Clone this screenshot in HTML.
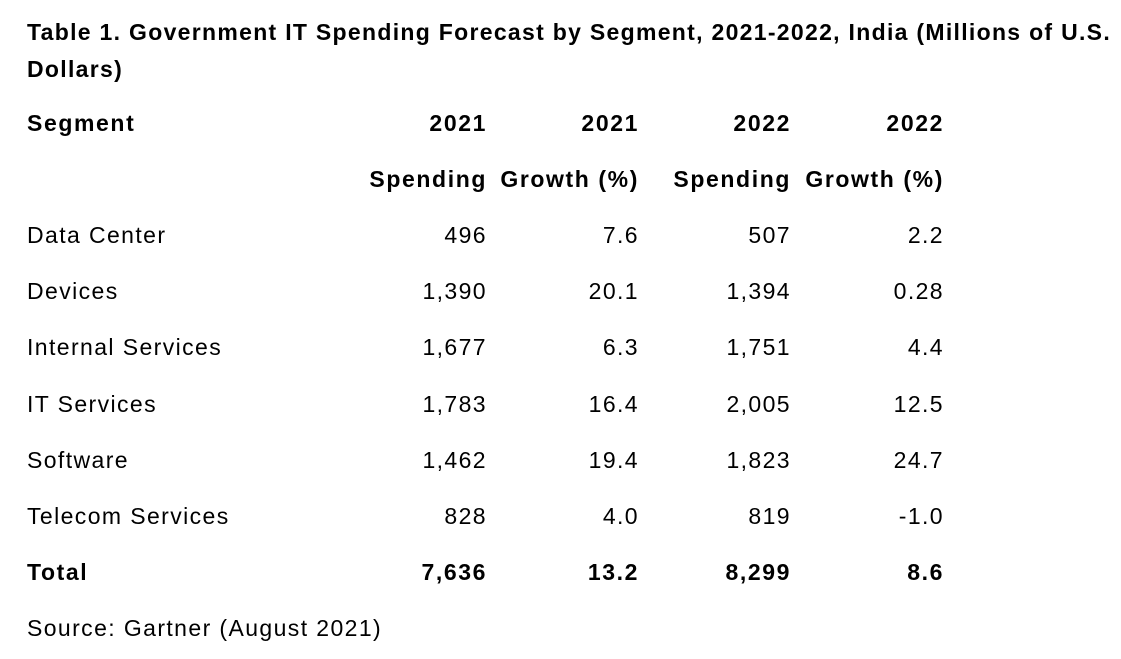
<!DOCTYPE html>
<html><head><meta charset="utf-8"><style>
body{margin:0;background:#fff;width:1121px;height:659px;position:relative;overflow:hidden;font-family:"Liberation Sans",sans-serif;color:#000}
.t{position:absolute;left:27px;font-weight:bold;font-size:23px;letter-spacing:1.3px;white-space:nowrap}
.c{position:absolute;font-size:23px;letter-spacing:1.4px;white-space:nowrap;line-height:26px;transform:translateY(-13px)}
.r{text-align:right}
.b{font-weight:bold;letter-spacing:1.6px}
</style></head><body>
<div class="t" style="top:19px">Table 1. Government IT Spending Forecast by Segment, 2021-2022, India (Millions of U.S.</div>
<div class="t" style="top:56px">Dollars)</div>
<div id="tbl"></div>
<script>
const segments=["Data Center","Devices","Internal Services","IT Services","Software","Telecom Services","Total"];
const spend2021=["496","1,390","1,677","1,783","1,462","828","7,636"];
const growth2021=["7.6","20.1","6.3","16.4","19.4","4.0","13.2"];
const spend2022=["507","1,394","1,751","2,005","1,823","819","8,299"];
const growth2022=["2.2","0.28","4.4","12.5","24.7","-1.0","8.6"];
const tbl=document.getElementById('tbl');
const rights=[487,639,791,944];
function cell(txt,y,right,bold,name){
  const d=document.createElement('div');
  
  
  d.className='c'+(bold?' b':'')+(right!=null?' r':'');
  d.textContent=txt;
  d.style.top=y+'px';
  if(right!=null){d.style.right=(1121-right)+'px';}else{d.style.left='27px';}
  tbl.appendChild(d);
}
cell('Segment',123,null,true,'header-segment');
const h1=['2021','2021','2022','2022'],h2=['Spending','Growth (%)','Spending','Growth (%)'];
for(let i=0;i<4;i++){cell(h1[i],123,rights[i],true,'header-year');cell(h2[i],179,rights[i],true,'header-metric');}
for(let r=0;r<segments.length;r++){
  const y=235+r*56.2;const bold=r===segments.length-1;
  cell(segments[r],y,null,bold,'segment-label');
  cell(spend2021[r],y,rights[0],bold,'spending-2021');
  cell(growth2021[r],y,rights[1],bold,'growth-2021');
  cell(spend2022[r],y,rights[2],bold,'spending-2022');
  cell(growth2022[r],y,rights[3],bold,'growth-2022');
}
cell('Source: Gartner (August 2021)',628,null,false,'source-note');
</script>
</body></html>
